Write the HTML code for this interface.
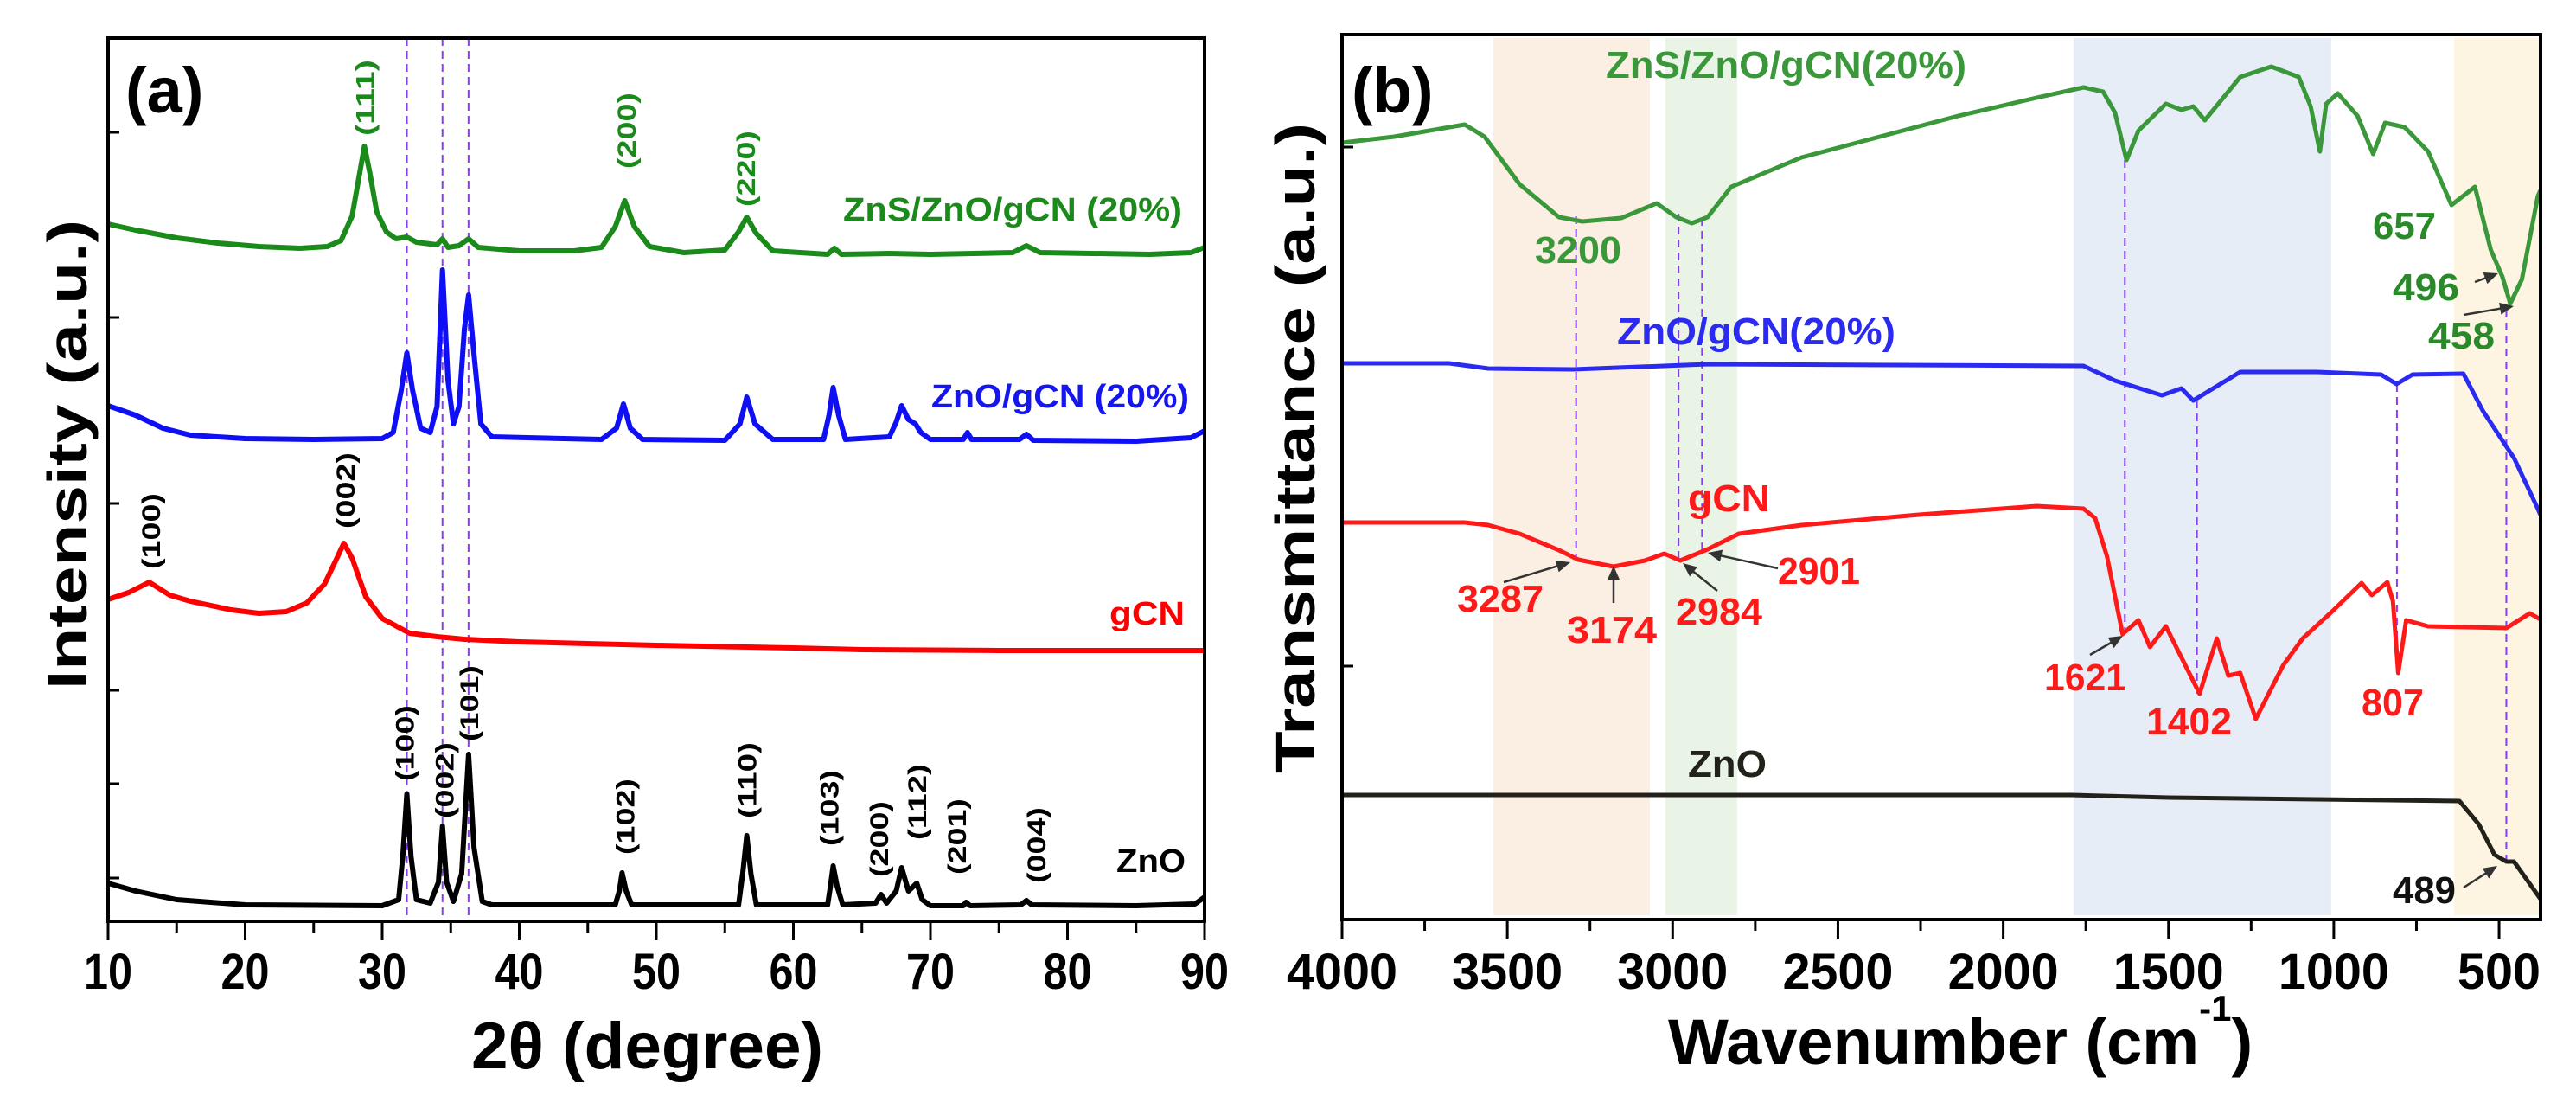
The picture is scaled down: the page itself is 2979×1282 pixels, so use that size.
<!DOCTYPE html>
<html><head><meta charset="utf-8"><style>
html,body{margin:0;padding:0;background:#fff;}
svg{display:block;}
text{font-family:"Liberation Sans",sans-serif;font-weight:bold;}
</style></head><body>
<svg id="fig" width="2979" height="1282" viewBox="0 0 2979 1282" xmlns="http://www.w3.org/2000/svg">
<g id="bands"></g>
<g id="gridA"></g>
<g id="gridB"></g>
<g id="seriesA"></g>
<g id="seriesB"></g>
<g id="axes"></g>

<text x="145" y="130" font-size="74">(a)</text>
<text transform="translate(100,797) rotate(-90)" font-size="64" textLength="543" lengthAdjust="spacingAndGlyphs">Intensity (a.u.)</text>
<text x="545" y="1235" font-size="76" textLength="407" lengthAdjust="spacingAndGlyphs">2θ (degree)</text>
<text x="975" y="255" font-size="38" fill="#1a8a1a" textLength="392" lengthAdjust="spacingAndGlyphs">ZnS/ZnO/gCN (20%)</text>
<text x="1077" y="471" font-size="38" fill="#1515f0" textLength="298" lengthAdjust="spacingAndGlyphs">ZnO/gCN (20%)</text>
<text x="1283" y="722" font-size="38" fill="#ff0000" textLength="87" lengthAdjust="spacingAndGlyphs">gCN</text>
<text x="1291" y="1008" font-size="38" fill="#000" textLength="80" lengthAdjust="spacingAndGlyphs">ZnO</text>
<g id="hkl" font-size="30" font-weight="normal"></g>

<text x="1563" y="130" font-size="74">(b)</text>
<text transform="translate(1520,894) rotate(-90)" font-size="64" textLength="752" lengthAdjust="spacingAndGlyphs">Transmittance (a.u.)</text>
<text x="1929" y="1230" font-size="74">Wavenumber (cm<tspan font-size="42" dy="-50">-1</tspan><tspan dy="50">)</tspan></text>
<g id="ann" font-size="44"></g>
<g id="arrows"></g>
</svg>
<script>
const xrdGreenX=[10,12,15,18,21,24,26,27,27.8,28.3,28.7,29.1,29.6,30.3,31,31.8,32.5,34,34.4,34.8,35.6,36.3,37,40,44,46,47,47.7,48.4,49.5,52,55,56,56.6,57.3,58.5,62.5,63,63.5,67,70,76,77,78,86,89,90];
const xrdGreenY=[806,799,790,784,780,778,780,787,815,860,896,865,820,797,789,791,785,782,789,779,781,789,779,775,775,779,803,833,803,780,773,776,797,814,795,775,771,778,771,772,771,773,781,773,771,773,779];
const xrdBlueX=[10,12,14,16,20,25,30,30.8,31.4,31.8,32.2,32.8,33.5,34.0,34.4,34.8,35.2,35.6,36.0,36.3,36.7,37.2,38,46,47.1,47.6,48.1,49,55,56.1,56.6,57.2,58.5,62.2,62.6,62.9,63.3,63.8,67,67.5,67.9,68.4,68.9,69.3,70,72.4,72.7,73,76.5,77,77.5,85,89,90];
const xrdBlueY=[596,585,570,562,558,557,558,565,615,657,615,570,565,595,753,625,575,595,685,724,655,575,560,557,570,598,570,557,556,575,606,575,557,557,585,617,585,557,560,577,596,580,575,565,557,557,565,557,557,563,556,555,559,567];
const xrdRedX=[10,11.5,13,14.5,16,19,21,23,24.5,25.8,26.7,27.2,27.8,28.8,30,32,34,36,40,50,60,65,75,90];
const xrdRedY=[372,380,392,377,370,360,356,358,368,390,420,437,420,375,350,333,329,326,323,319,316,314,313,313];
const xrdBlackX=[10,12,15,20,30,31.2,31.5,31.8,32.1,32.5,33.5,34.1,34.4,34.7,35.2,35.8,36.3,36.7,37.3,38,47,47.3,47.5,47.8,48.2,56,56.3,56.6,56.9,57.3,62.5,62.7,62.9,63.2,63.6,66,66.4,66.8,67.5,67.9,68.4,69,69.4,70,72.4,72.6,72.9,76.6,77,77.4,85,89.3,90];
const xrdBlackY=[44,35,25,19,18,25,75,147,75,25,21,45,110,45,23,55,193,85,23,19,19,35,56,35,19,19,55,99,55,19,19,40,64,40,19,21,31,21,35,62,35,44,25,18,18,22,18,19,24,19,18,20,28];
const xrdRefLines=[31.8,34.4,36.3];
const xTicksA=[10,20,30,40,50,60,70,80,90];
const xMinorA=[15,25,35,45,55,65,75,85];
const hklText=["(111)","(200)","(220)","(100)","(002)","(100)","(002)","(101)","(102)","(110)","(103)","(200)","(112)","(201)","(004)"];
const hklPos=[28.7,47.8,56.5,13.1,27.3,31.6,34.5,36.3,47.7,56.6,62.6,66.2,69.0,71.9,77.7];
const hklTop=[69,107,151,570,523,815,858,769,900,858,890,926,883,923,933];
const hklColor=["#1a8a1a","#1a8a1a","#1a8a1a","#000","#000","#000","#000","#000","#000","#000","#000","#000","#000","#000","#000"];

const ftGreenX=[4000,3842,3629,3569,3463,3344,3273,3155,3048,2989,2942,2894,2823,2610,2373,2136,1899,1757,1698,1662,1627,1591,1508,1461,1425,1390,1283,1189,1106,1070,1042,1023,988,928,881,845,786,715,644,573,525,490,466,431,383,375];
const ftGreenY=[898,905,919,905,850,812,807,811,828,812,805,812,847,881,905,929,950,962,957,933,878,912,943,936,940,924,974,986,974,940,888,943,955,929,885,921,916,888,826,847,774,743,712,740,836,843];
const ftBlueX=[4000,3676,3558,3300,2894,1757,1662,1520,1461,1425,1283,1050,857,810,762,608,549,454,383,375];
const ftBlueY=[643,643,637,636,642,640,623,606,614,600,633,633,630,619,630,631,588,533,475,468];
const ftRedX=[4000,3629,3558,3463,3344,3285,3179,3084,3025,2977,2894,2800,2610,2255,1899,1757,1722,1686,1639,1591,1556,1508,1406,1354,1319,1283,1236,1153,1094,1011,916,885,838,821,805,781,715,478,407,375];
const ftRedY=[459,459,456,446,427,416,408,415,423,415,428,446,456,468,478,475,464,420,330,346,315,339,261,325,282,285,232,294,325,354,389,375,390,368,285,346,339,337,354,347];
const ftBlackX=[4000,1793,1500,1050,620,561,514,478,455,375];
const ftBlackY=[144,144,141,139,137,110,75,67,67,24];
const bandFrom=[3542,3022,1787,636];
const bandTo=[3069,2805,1008,375];
const bandColor=["#fbeee3","#e9f4e6","#e7edf7","#fdf5e2"];
const refW=[3292,2982,2911,1632,1414,809,478];
const refTop=[250,247,252,185,463,444,358];
const refBottom=[647,648,637,733,802,778,996];
const xTicksB=[4000,3500,3000,2500,2000,1500,1000,500];
const xMinorB=[3750,3250,2750,2250,1750,1250,750];

const A={l:125,r:1393,t:44,b:1065,x0:10,x1:90};
const B={l:1552,r:2938,t:40,b:1063};
function ax(t){return A.l+(t-A.x0)*(A.r-A.l)/(A.x1-A.x0);}
function ay(v){return A.b-v;}
function bx(w){return B.l+(4000-w)*0.3823;}
function by(v){return B.b-v;}
const NS="http://www.w3.org/2000/svg";
function mk(tag,attrs,parent){const e=document.createElementNS(NS,tag);for(const k in attrs)e.setAttribute(k,attrs[k]);parent.appendChild(e);return e;}
function pathD(xs,ys,fx,fy){return xs.map((x,i)=>(i?"L":"M")+fx(x).toFixed(1)+","+fy(ys[i]).toFixed(1)).join(" ");}

const gb=document.getElementById('bands');
bandFrom.forEach((f,i)=>{
 const r=mk('rect',{x:bx(f),y:B.t+4,width:bx(bandTo[i])-bx(f),height:B.b-B.t-9,fill:bandColor[i]},gb);
 
 
});
const ga=document.getElementById('gridA');
xrdRefLines.forEach(t=>{
 const l=mk('line',{x1:ax(t),x2:ax(t),y1:A.t,y2:A.b,stroke:"#8a3cf5","stroke-width":2,"stroke-dasharray":"9 6"},ga);
 
 
});
const gr=document.getElementById('gridB');
refW.forEach((w,i)=>{
 const l=mk('line',{x1:bx(w),x2:bx(w),y1:refTop[i],y2:refBottom[i],stroke:"#8a3cf5","stroke-width":2,"stroke-dasharray":"9 6"},gr);
 
 
});
const sa=document.getElementById('seriesA');
[[xrdGreenX,xrdGreenY,"#1a8a1a","xrd-zns-zno-gcn-line"],[xrdBlueX,xrdBlueY,"#0f0ff5","xrd-zno-gcn-line"],[xrdRedX,xrdRedY,"#ff0000","xrd-gcn-line"],[xrdBlackX,xrdBlackY,"#000000","xrd-zno-line"]].forEach(s=>{
 const p=mk('path',{d:pathD(s[0],s[1],ax,ay),fill:"none",stroke:s[2],"stroke-width":6,"stroke-linejoin":"round"},sa);
 
 
});
const sb=document.getElementById('seriesB');
[[ftGreenX,ftGreenY,"#3a973a","ftir-zns-zno-gcn-line"],[ftBlueX,ftBlueY,"#2a2af0","ftir-zno-gcn-line"],[ftRedX,ftRedY,"#ff1a1a","ftir-gcn-line"],[ftBlackX,ftBlackY,"#22221a","ftir-zno-line"]].forEach(s=>{
 const p=mk('path',{d:pathD(s[0],s[1],bx,by),fill:"none",stroke:s[2],"stroke-width":5,"stroke-linejoin":"round"},sb);
 
 
});
const g=document.getElementById('axes');
const fa=mk('rect',{x:A.l,y:A.t,width:A.r-A.l,height:A.b-A.t,fill:"none",stroke:"#000","stroke-width":4},g);


const fb=mk('rect',{x:B.l,y:B.t,width:B.r-B.l,height:B.b-B.t,fill:"none",stroke:"#000","stroke-width":4},g);


const yTicksA=[153,367,582,798,906,1015];
yTicksA.forEach(y=>{mk('line',{x1:A.l,x2:A.l+13,y1:y,y2:y,stroke:"#000","stroke-width":3},g);});
[170,770].forEach(y=>{mk('line',{x1:B.l,x2:B.l+13,y1:y,y2:y,stroke:"#000","stroke-width":3},g);});
xTicksA.forEach(t=>{
 mk('line',{x1:ax(t),x2:ax(t),y1:A.b,y2:A.b+22,stroke:"#000","stroke-width":3},g);
 const tx=mk('text',{x:ax(t),y:1143,"font-size":58,"text-anchor":"middle",textLength:56,lengthAdjust:"spacingAndGlyphs"},g);
 tx.textContent=t;
 
 
});
xMinorA.forEach(t=>{mk('line',{x1:ax(t),x2:ax(t),y1:A.b,y2:A.b+13,stroke:"#000","stroke-width":3},g);});
xTicksB.forEach(w=>{
 mk('line',{x1:bx(w),x2:bx(w),y1:B.b,y2:B.b+22,stroke:"#000","stroke-width":3},g);
 const s=String(w);
 const tx=mk('text',{x:bx(w),y:1143,"font-size":58,"text-anchor":"middle",textLength:s.length*32,lengthAdjust:"spacingAndGlyphs"},g);
 tx.textContent=s;
 
 
});
xMinorB.forEach(w=>{mk('line',{x1:bx(w),x2:bx(w),y1:B.b,y2:B.b+13,stroke:"#000","stroke-width":3},g);});
const gh=document.getElementById('hkl');
hklText.forEach((s,i)=>{
 const x=ax(hklPos[i])+11;
 const t=mk('text',{transform:"translate("+x.toFixed(1)+","+(hklTop[i]+88)+") rotate(-90)",fill:hklColor[i],textLength:88,lengthAdjust:"spacingAndGlyphs"},gh);
 t.textContent=s;
 
 
});
const annText=["ZnS/ZnO/gCN(20%)","3200","657","496","458","ZnO/gCN(20%)","gCN","3287","3174","2984","2901","1621","1402","807","ZnO","489"];
const annX=[1857,1775,2744,2767,2808,1870,1952,1685,1812,1938,2056,2364,2482,2731,1952,2767];
const annY=[90,304,276,347,403,398,591,707,743,722,675,798,849,827,898,1044];
const annW=[417,100,73,77,77,322,95,100,104,100,95,95,99,72,91,73];
const annColor=["#3a973a","#3a973a","#2a8a2a","#2a8a2a","#2a8a2a","#2a2af0","#ff1a1a","#ff1a1a","#ff1a1a","#ff1a1a","#ff1a1a","#ff1a1a","#ff1a1a","#ff1a1a","#22221a","#111"];
const gn=document.getElementById('ann');
annText.forEach((s,i)=>{
 const t=mk('text',{x:annX[i],y:annY[i],fill:annColor[i],textLength:annW[i],lengthAdjust:"spacingAndGlyphs"},gn);
 t.textContent=s;
 
 
});
const arrX1=[1739,1866,1986,2056,2417,2862,2849,2849];
const arrY1=[673,697,683,657,757,326,364,1026];
const arrX2=[1816,1866,1946,1975,2455,2889,2907,2888];
const arrY2=[650,654,651,639,735,316,354,1001];
const gA=document.getElementById('arrows');
arrX1.forEach((x,i)=>{
 const x2=arrX2[i],y2=arrY2[i],dx=x2-x,dy=y2-arrY1[i],L=Math.hypot(dx,dy),ux=dx/L,uy=dy/L;
 mk('line',{x1:x,y1:arrY1[i],x2:x2-ux*10,y2:y2-uy*10,stroke:"#333","stroke-width":2.5},gA);
 const hx=x2-ux*16,hy=y2-uy*16;
 const p=mk('path',{d:"M"+x2+","+y2+" L"+(hx-uy*7)+","+(hy+ux*7)+" L"+(hx+uy*7)+","+(hy-ux*7)+" Z",fill:"#333"},gA);
 
 
});
</script>
</body></html>
